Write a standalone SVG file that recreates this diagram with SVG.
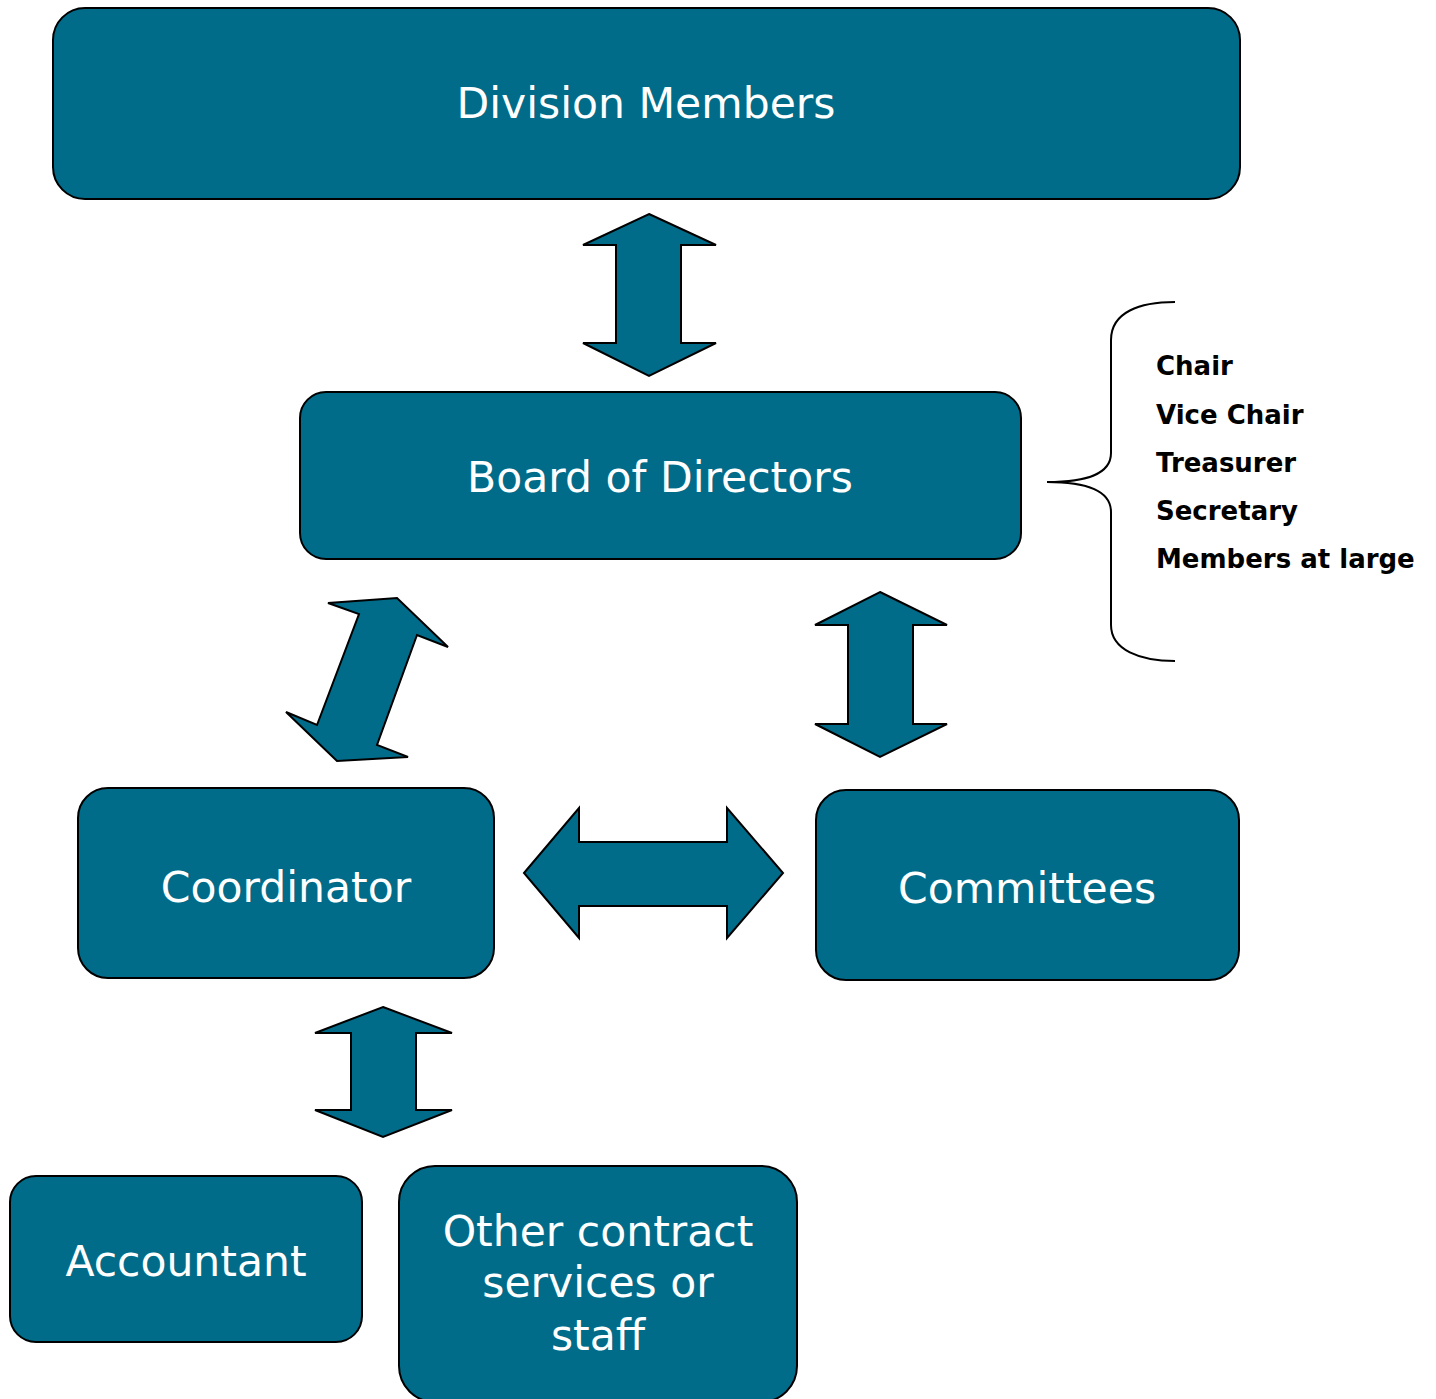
<svg xmlns="http://www.w3.org/2000/svg" width="1436" height="1399" viewBox="0 0 1436 1399">
  <style>
    .box { fill: #016c89; stroke: #000; stroke-width: 2; }
    .arrow { fill: #016c89; stroke: #000; stroke-width: 2; stroke-linejoin: miter; }
    .label { font-family: "DejaVu Sans", Verdana, sans-serif; font-size: 42.5px; fill: #fff; text-anchor: middle; }
    .role { font-family: "DejaVu Sans", Verdana, sans-serif; font-weight: bold; font-size: 26px; fill: #000; }
    .brace { fill: none; stroke: #000; stroke-width: 2; }
  </style>
  <rect width="1436" height="1399" fill="#fff"/>

  <!-- Nodes -->
  <g id="division-members">
    <rect class="box" x="53" y="8" width="1187" height="191" rx="32"/>
    <text class="label" x="646" y="118">Division Members</text>
  </g>
  <g id="board-of-directors">
    <rect class="box" x="300" y="392" width="721" height="167" rx="26"/>
    <text class="label" x="660" y="492">Board of Directors</text>
  </g>
  <g id="coordinator">
    <rect class="box" x="78" y="788" width="416" height="190" rx="30"/>
    <text class="label" x="286" y="902">Coordinator</text>
  </g>
  <g id="committees">
    <rect class="box" x="816" y="790" width="423" height="190" rx="30"/>
    <text class="label" x="1027" y="903">Committees</text>
  </g>
  <g id="accountant">
    <rect class="box" x="10" y="1176" width="352" height="166" rx="26"/>
    <text class="label" x="186" y="1276">Accountant</text>
  </g>
  <g id="other-contract">
    <rect class="box" x="399" y="1166" width="398" height="236" rx="36"/>
    <text class="label" x="598" y="1246">Other contract</text>
    <text class="label" x="598" y="1297">services or</text>
    <text class="label" x="598" y="1350">staff</text>
  </g>

  <!-- Board roles -->
  <g id="board-roles">
    <path class="brace" d="M1175,302 C1140,302 1111,312 1111,340 L1111,453 C1111,475 1085,482 1047,482 C1085,482 1111,490 1111,512 L1111,625 C1111,650 1140,661 1175,661"/>
    <text class="role" x="1156" y="375">Chair</text>
    <text class="role" x="1156" y="424">Vice Chair</text>
    <text class="role" x="1156" y="472">Treasurer</text>
    <text class="role" x="1156" y="520">Secretary</text>
    <text class="role" x="1156" y="568">Members at large</text>
  </g>

  <!-- Connectors: double-headed block arrows -->
  <g id="connectors">
    <polygon class="arrow" points="649,214 716,245 681,245 681,343 716,343 649,376 583,343 616,343 616,245 583,245"/>
    <polygon class="arrow" points="328,603 397,598 448,647 417,635 377,745 408,757 337,761 286,712 317,725 359,614"/>
    <polygon class="arrow" points="880,592 947,625 913,625 913,724 947,724 880,757 815,724 848,724 848,625 815,625"/>
    <polygon class="arrow" points="524,873 579,808 579,842 727,842 727,808 783,873 727,938 727,906 579,906 579,938"/>
    <polygon class="arrow" points="383,1007 452,1033 416,1033 416,1110 452,1110 383,1137 315,1110 351,1110 351,1033 315,1033"/>
  </g>
</svg>
